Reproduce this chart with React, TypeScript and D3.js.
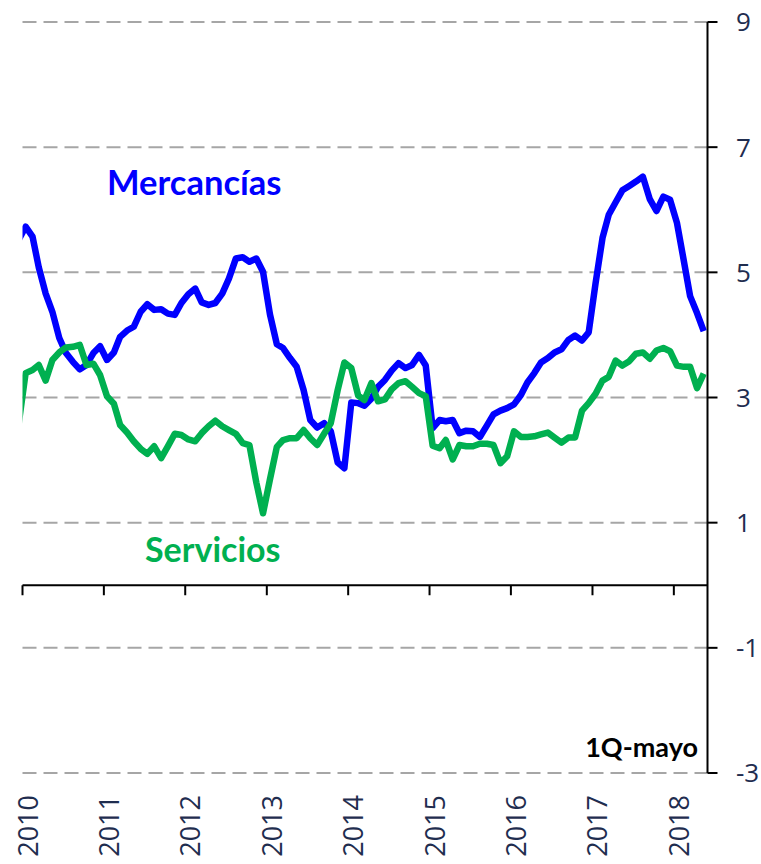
import * as d3 from 'd3'

// monthly, Dec 2009 (clipped at the left edge) .. May 2018 (1Q-mayo)
const startMonth = new Date(2009, 11, 1)
const endMonth = new Date(2018, 5, 1)

const mercancias = [
  5.52,
  5.73, 5.57, 5.08, 4.66, 4.37, 3.95, 3.71, 3.57, 3.45, 3.52, 3.71, 3.82,
  3.60, 3.72, 3.97, 4.07, 4.13, 4.37, 4.49, 4.40, 4.41, 4.34, 4.32, 4.51,
  4.65, 4.74, 4.52, 4.48, 4.51, 4.66, 4.90, 5.22, 5.24, 5.17, 5.22, 5.01,
  4.33, 3.85, 3.79, 3.63, 3.49, 3.12, 2.64, 2.52, 2.59, 2.46, 1.96, 1.87,
  2.92, 2.91, 2.87, 2.98, 3.17, 3.28, 3.43, 3.55, 3.47, 3.52, 3.68, 3.51,
  2.51, 2.64, 2.62, 2.64, 2.43, 2.47, 2.46, 2.37, 2.55, 2.73, 2.79, 2.83,
  2.89, 3.04, 3.24, 3.39, 3.56, 3.63, 3.72, 3.77, 3.92, 3.99, 3.91, 4.04,
  4.83, 5.55, 5.92, 6.12, 6.31, 6.38, 6.45, 6.53, 6.17, 5.98, 6.21, 6.16,
  5.79, 5.18, 4.62, 4.35, 4.06,
]

const servicios = [
  2.58,
  3.39, 3.44, 3.52, 3.27, 3.60, 3.72, 3.80, 3.81, 3.84, 3.52, 3.54, 3.36,
  3.02, 2.90, 2.56, 2.44, 2.30, 2.18, 2.10, 2.22, 2.03, 2.22, 2.42, 2.40,
  2.33, 2.30, 2.43, 2.54, 2.63, 2.54, 2.48, 2.42, 2.27, 2.24, 1.64, 1.15,
  1.69, 2.21, 2.32, 2.35, 2.35, 2.48, 2.35, 2.24, 2.42, 2.59, 3.12, 3.56,
  3.47, 3.03, 2.96, 3.23, 2.94, 2.97, 3.13, 3.23, 3.26, 3.17, 3.07, 3.02,
  2.23, 2.19, 2.32, 2.01, 2.24, 2.22, 2.22, 2.26, 2.26, 2.24, 1.95, 2.06,
  2.46, 2.37, 2.37, 2.38, 2.41, 2.44, 2.36, 2.28, 2.36, 2.36, 2.79, 2.91,
  3.06, 3.27, 3.33, 3.59, 3.51, 3.58, 3.70, 3.72, 3.62, 3.75, 3.79, 3.74,
  3.51, 3.49, 3.49, 3.15, 3.38,
]

const yTicks = [9, 7, 5, 3, 1, -1, -3]
const years = [2010, 2011, 2012, 2013, 2014, 2015, 2016, 2017, 2018]

const W = 761
const H = 864
const left = 22.5
const right = 707.5
const top = 22
const bottom = 773

const tickColor = '#1f2d4f'
const blue = '#0000ff'
const green = '#00b050'

export default function App() {
  const months = d3.timeMonth.range(startMonth, endMonth)
  const x = d3.scaleTime()
    .domain([new Date(2010, 0, 1), new Date(2018, 5, 1)])
    .range([left, right])
  const y = d3.scaleLinear().domain([-3, 9]).range([bottom, top])

  // points sit in the middle of each month
  const line = d3.line<number>()
    .x((d, i) => x(new Date(months[i].getFullYear(), months[i].getMonth(), 15)))
    .y(d => y(d))

  const y0 = y(0)

  return (
    <svg width={W} height={H} style={{position: 'absolute', left: 0, top: 0, background: '#fff'}}>
      <defs>
        <clipPath id="plot">
          <rect x={left} y={0} width={right - left + 2} height={H}/>
        </clipPath>
      </defs>

      {yTicks.map(t => (
        <line key={'g' + t} x1={left} x2={right} y1={y(t)} y2={y(t)}
              stroke="#a6a6a6" strokeWidth={2} strokeDasharray="14 7"/>
      ))}

      {/* x axis at 0 */}
      <line x1={left} x2={right} y1={y0} y2={y0} stroke="#000" strokeWidth={2}/>
      {years.map(yr => {
        const px = x(new Date(yr, 0, 1))
        return (
          <g key={yr}>
            <line x1={px} x2={px} y1={y0} y2={y0 + 10} stroke="#000" strokeWidth={2}/>
            <text transform={`translate(${px + 15}, 795) rotate(-90)`} textAnchor="end"
                  fontFamily="'Open Sans', sans-serif" fontSize={27} fill={tickColor}>{yr}</text>
          </g>
        )
      })}

      {/* y axis on the right */}
      <line x1={right} x2={right} y1={top} y2={bottom} stroke="#000" strokeWidth={2}/>
      {yTicks.map(t => (
        <g key={'t' + t}>
          <line x1={right} x2={right + 10} y1={y(t)} y2={y(t)} stroke="#000" strokeWidth={2}/>
          <text x={736} y={y(t)} dy="0.36em" fontFamily="'Open Sans', sans-serif" fontSize={26}
                fill={tickColor}>{t}</text>
        </g>
      ))}

      <g clipPath="url(#plot)">
        <path d={line(mercancias) || ''} fill="none" stroke={blue} strokeWidth={6.5} strokeLinejoin="round"/>
        <path d={line(servicios) || ''} fill="none" stroke={green} strokeWidth={6.5} strokeLinejoin="round"/>
      </g>

      <text x={107} y={195} fontFamily="Lato, sans-serif" fontWeight="bold" fontSize={34.5} fill={blue}>Mercancías</text>
      <text x={145} y={562} fontFamily="Lato, sans-serif" fontWeight="bold" fontSize={34} fill={green}>Servicios</text>
      <text x={698} y={757} textAnchor="end" fontFamily="Lato, sans-serif" fontWeight="bold" fontSize={27} fill="#000">1Q-mayo</text>
    </svg>
  )
}
